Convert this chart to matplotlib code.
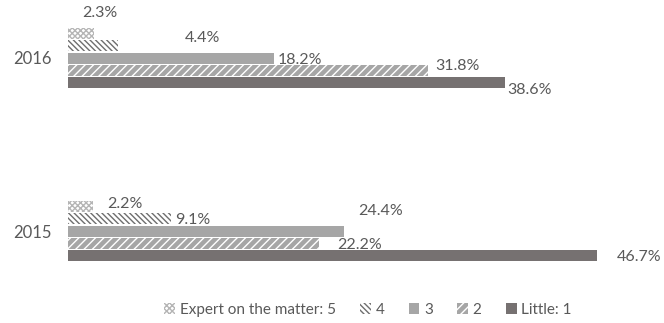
import matplotlib
matplotlib.use("Agg")
import matplotlib.pyplot as plt
import numpy as np

plt.rcParams['font.family'] = ['Lato', 'DejaVu Sans']
plt.rcParams['hatch.linewidth'] = 1.0

years = ["2016", "2015"]
series = ["Expert on the matter: 5", "4", "3", "2", "Little: 1"]
values_2016 = [2.3, 4.4, 18.2, 31.8, 38.6]
values_2015 = [2.2, 9.1, 24.4, 22.2, 46.7]

# label offsets from the bar end, in pixels (dx, dy)
offs_2016 = [(-12, 20), (67, 8), (4, -2), (7, 4), (2, -7)]
offs_2015 = [(14, 2), (4, -1), (14, 20), (18, -2), (20, -1)]

faces = ["white", "white", "#a6a6a6", "#a6a6a6", "#767171"]
edges = ["#b5b5b5", "#6e6e6e", "#a6a6a6", "white", "#767171"]
hatches = ["xxxxxx", "\\\\\\\\\\\\", None, "////", None]
txt = "#595959"

W, H = 664, 323
fig = plt.figure(figsize=(W / 100, H / 100), dpi=100)
top_px, bot_px = 0, 285
ax = fig.add_axes([68 / W, (H - bot_px) / H, 589 / W, (bot_px - top_px) / H])

unit = 173.0            # pixels between the two group centres
pitch = 12.4 / unit
height = 11.0 / unit
centers = [1.0, 0.0]

for gi, (vals, offs) in enumerate([(values_2016, offs_2016), (values_2015, offs_2015)]):
    for i, v in enumerate(vals):
        y = centers[gi] - (i - 2) * pitch
        ax.barh(y, v, height=height, color=faces[i], edgecolor=edges[i],
                hatch=hatches[i], linewidth=0,
                label=series[i] if gi == 0 else None)
        ax.annotate(f"{v}%", xy=(v, y), xytext=offs[i], textcoords="offset pixels",
                    ha="left", va="center", fontsize=11.5, color=txt,
                    annotation_clip=False)

ax.set_xlim(0, 52)
ax.set_ylim(-(bot_px - 231) / unit, 1 + 58 / unit)
ax.set_yticks(centers)
ax.set_yticklabels(years, fontsize=12, color=txt)
ax.tick_params(axis="y", length=0, pad=12)
ax.set_xticks([])
for s in ax.spines.values():
    s.set_visible(False)

leg = fig.legend(loc="center", bbox_to_anchor=(368 / W, 1 - 310 / H), ncol=5,
                 frameon=False, fontsize=11, handlelength=0.7, handleheight=0.7,
                 handletextpad=0.3, columnspacing=1.6)
for t in leg.get_texts():
    t.set_color(txt)

fig.savefig("out.png", dpi=100)
